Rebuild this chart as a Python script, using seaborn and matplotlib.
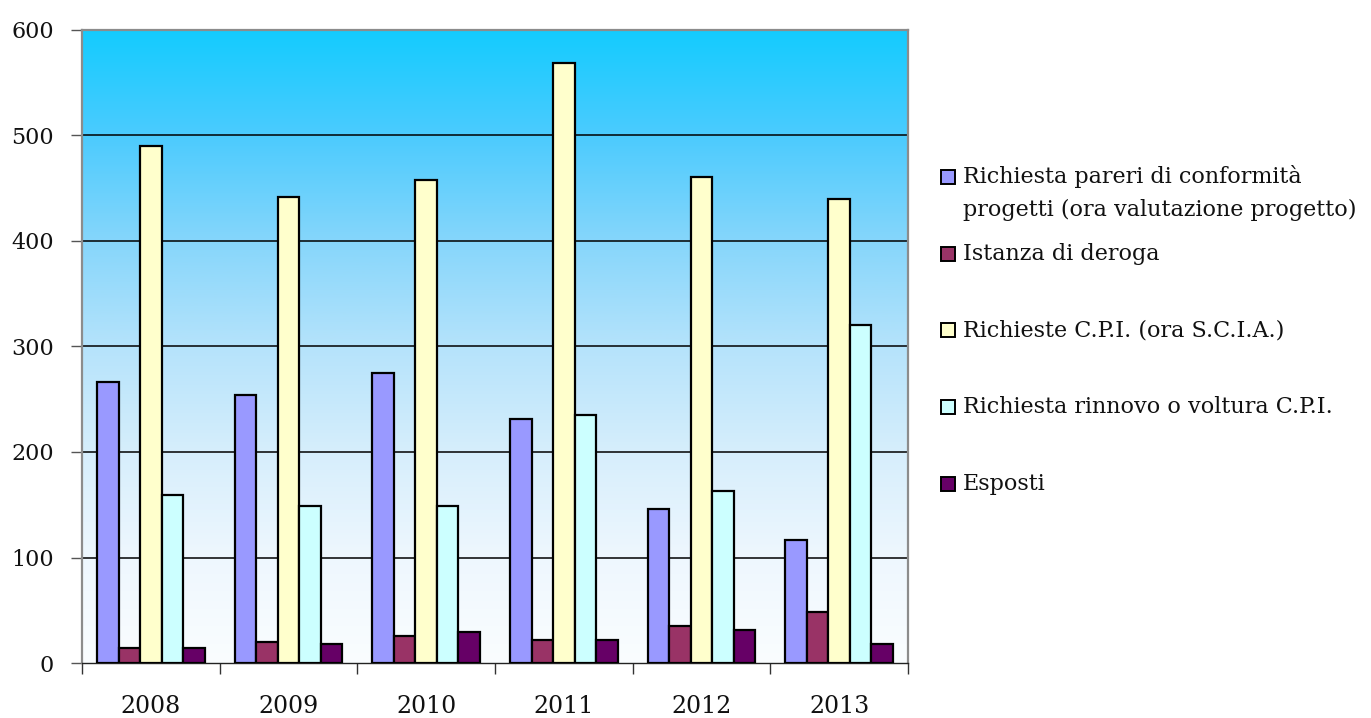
import numpy as np
import pandas as pd
import matplotlib
matplotlib.use("Agg")
import matplotlib.pyplot as plt
from matplotlib.colors import LinearSegmentedColormap
from matplotlib.patches import Rectangle
import seaborn as sns

# ---- data ----
years = ["2008", "2009", "2010", "2011", "2012", "2013"]
series_names = [
    "Richiesta pareri di conformità\nprogetti (ora valutazione progetto)",
    "Istanza di deroga",
    "Richieste C.P.I. (ora S.C.I.A.)",
    "Richiesta rinnovo o voltura C.P.I.",
    "Esposti",
]
pareri = [266, 254, 275, 231, 146, 117]
deroga = [14, 20, 26, 22, 35, 48]
richieste_cpi = [490, 442, 458, 569, 461, 440]
rinnovo = [159, 149, 149, 235, 163, 320]
esposti = [14, 18, 29, 22, 31, 18]
colors = ["#9999FF", "#993366", "#FFFFCC", "#CCFFFF", "#660066"]
yticks = [0, 100, 200, 300, 400, 500, 600]

values = [pareri, deroga, richieste_cpi, rinnovo, esposti]
rows = []
for name, vals in zip(series_names, values):
    for y, v in zip(years, vals):
        rows.append({"year": y, "series": name, "value": v})
df = pd.DataFrame(rows)

sns.set_theme(style="white")
plt.rcParams["font.family"] = ["DejaVu Serif", "DejaVu Sans"]

W, H = 1371, 718
fig = plt.figure(figsize=(W / 100, H / 100), dpi=100)
fig.patch.set_facecolor("white")
ax = fig.add_axes([82 / W, (H - 663) / H, (908 - 82) / W, (663 - 30) / H])

# gradient background
grad_cmap = LinearSegmentedColormap.from_list(
    "bg",
    [(0.0, "#FAFDFF"), (0.167, "#EEF7FE"), (0.333, "#D6EEFC"), (0.5, "#B5E3FB"),
     (0.667, "#86D6FB"), (0.833, "#4CCBFE"), (1.0, "#14CCFF")],
)
grad = np.linspace(0, 1, 256).reshape(-1, 1)
ax.imshow(grad, cmap=grad_cmap, origin="lower", aspect="auto",
          extent=[0, 1, 0, 1], transform=ax.transAxes, zorder=0)

sns.barplot(data=df, x="year", y="value", hue="series", hue_order=series_names,
            palette=colors, width=0.78, saturation=1, edgecolor="black",
            linewidth=1.6, legend=False, ax=ax, zorder=3)

ax.set_xlim(-0.5, 5.5)
ax.set_ylim(0, 600)
ax.set_xlabel("")
ax.set_ylabel("")

for v in yticks[1:-1]:
    ax.axhline(v, color="black", lw=1.1, zorder=1)

ax.set_yticks(yticks)
ax.set_yticklabels([str(t) for t in yticks], fontsize=16, color="#111111")
ax.tick_params(axis="y", which="major", direction="out", length=8, width=1,
               color="#555555", pad=12, left=True)

ax.set_xticks(range(len(years)))
ax.set_xticklabels(years, fontsize=17, color="#111111")
ax.set_xticks(np.arange(-0.5, 6.0, 1.0), minor=True)
ax.tick_params(axis="x", which="major", length=0, pad=23)
ax.tick_params(axis="x", which="minor", direction="out", length=8, width=1,
               color="#333333", bottom=True)

for s in ["left", "top", "right"]:
    ax.spines[s].set_color("#8C8C8C")
    ax.spines[s].set_linewidth(1.6)
ax.spines["bottom"].set_color("#222222")
ax.spines["bottom"].set_linewidth(1.0)
ax.grid(False)

# legend (manual, matching reference layout)
hx, hs = 941, 14
tx = 963
entry_y = [177, 254, 330, 407, 484]
for i, (name, col) in enumerate(zip(series_names, colors)):
    yc = entry_y[i]
    fig.add_artist(Rectangle((hx / W, (H - yc - hs / 2) / H), hs / W, hs / H,
                             transform=fig.transFigure, facecolor=col,
                             edgecolor="black", lw=1.4))
    lines = name.split("\n")
    for j, line in enumerate(lines):
        fig.text(tx / W, (H - (yc + j * 33)) / H, line, fontsize=16,
                 ha="left", va="center", color="#111111")

fig.savefig("out.png", dpi=100, facecolor="white")
